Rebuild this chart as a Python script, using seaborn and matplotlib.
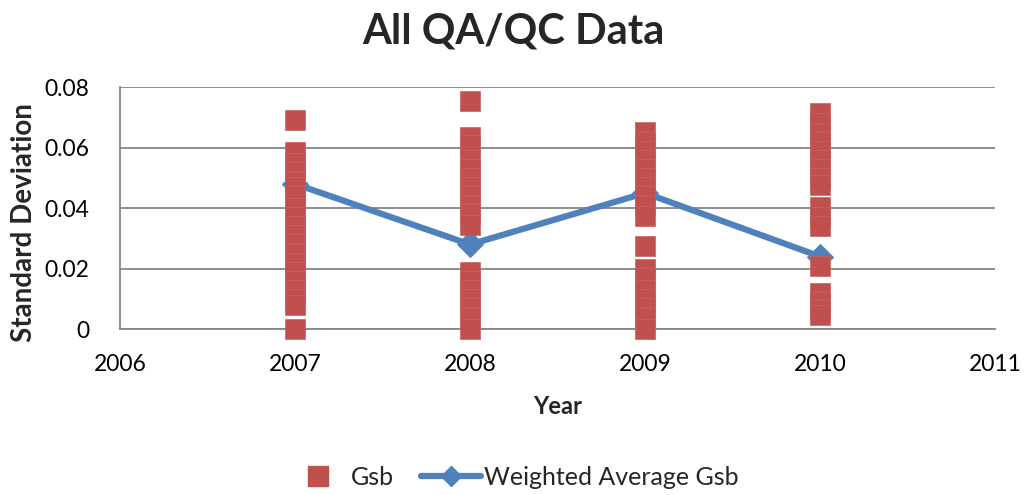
import seaborn as sns
import pandas as pd
import matplotlib.pyplot as plt
from matplotlib.lines import Line2D

# Gsb standard deviations per year
gsb_2007 = [0.069, 0.0585, 0.055, 0.052, 0.049, 0.047, 0.044, 0.040, 0.037, 0.034,
            0.031, 0.028, 0.025, 0.022, 0.019, 0.016, 0.013, 0.010, 0.008, 0.0]
gsb_2008 = [0.0755, 0.0636, 0.061, 0.056, 0.053, 0.050, 0.047, 0.044, 0.041, 0.038,
            0.0345, 0.019, 0.016, 0.013, 0.010, 0.007, 0.004, 0.0]
gsb_2009 = [0.0652, 0.062, 0.059, 0.056, 0.053, 0.050, 0.047, 0.044, 0.041, 0.0375,
            0.0275, 0.020, 0.017, 0.013, 0.010, 0.007, 0.004, 0.0]
gsb_2010 = [0.0715, 0.068, 0.065, 0.062, 0.059, 0.056, 0.053, 0.050, 0.0475, 0.0405,
            0.037, 0.034, 0.021, 0.012, 0.009, 0.0065, 0.0046]

years = [2007, 2008, 2009, 2010]
weighted_avg = [0.048, 0.028, 0.045, 0.024]

x_ticks = [2006, 2007, 2008, 2009, 2010, 2011]
y_ticks = [0, 0.02, 0.04, 0.06, 0.08]
y_tick_labels = ["0", "0.02", "0.04", "0.06", "0.08"]

gsb_df = pd.DataFrame({
    "Year": [2007] * len(gsb_2007) + [2008] * len(gsb_2008)
            + [2009] * len(gsb_2009) + [2010] * len(gsb_2010),
    "Gsb": gsb_2007 + gsb_2008 + gsb_2009 + gsb_2010,
})
avg_df = pd.DataFrame({"Year": years, "Weighted Average Gsb": weighted_avg})

sns.set_style("white")
plt.rcParams["font.family"] = ["Lato", "DejaVu Sans"]

red = "#C0504D"
blue = "#4F81BD"
grid_col = "#868686"

fig = plt.figure(figsize=(10.26, 4.95), dpi=100)
ax = fig.add_axes([0.117, 0.335, 0.853, 0.489])

sns.lineplot(data=avg_df, x="Year", y="Weighted Average Gsb", ax=ax, color=blue,
             linewidth=4.5, marker="D", markersize=13, markeredgecolor=blue,
             zorder=2)
sns.scatterplot(data=gsb_df, x="Year", y="Gsb", ax=ax, marker="s", s=200,
                color=red, edgecolor="#c9615e", linewidth=0.5, zorder=3,
                clip_on=False)

ax.set_xlim(2006, 2011)
ax.set_ylim(0, 0.08)
ax.set_xticks(x_ticks)
ax.set_xticklabels([str(y) for y in x_ticks])
ax.set_yticks(y_ticks)
ax.set_yticklabels(y_tick_labels)
ax.tick_params(axis="both", length=0, labelsize=16.5, colors="black")
ax.tick_params(axis="x", pad=18)
ax.tick_params(axis="y", pad=22)

ax.grid(axis="y", color=grid_col, linewidth=1.3, zorder=0)
ax.set_axisbelow(True)
for side in ["top", "right"]:
    ax.spines[side].set_visible(False)
ax.spines["left"].set_color(grid_col)
ax.spines["left"].set_linewidth(1.3)
ax.spines["bottom"].set_color(grid_col)
ax.spines["bottom"].set_linewidth(1.3)

ax.set_xlabel("Year", fontsize=17, fontweight="bold", labelpad=14)
ax.set_ylabel("Standard Deviation", fontsize=20, fontweight="bold")
ax.yaxis.set_label_coords(-0.095, 0.44)
fig.suptitle("All QA/QC Data", fontsize=30, fontweight="bold", y=0.975)

handles = [
    Line2D([], [], linestyle="none", marker="s", markersize=14, color=red),
    Line2D([], [], color=blue, linewidth=4.5, marker="D", markersize=10),
]
fig.legend(handles, ["Gsb", "Weighted Average Gsb"], loc="center",
           bbox_to_anchor=(0.5, 0.036), ncol=2, frameon=False, fontsize=18,
           handlelength=2.4, columnspacing=1.1, handletextpad=0.1)

fig.savefig("out.png", dpi=100)
